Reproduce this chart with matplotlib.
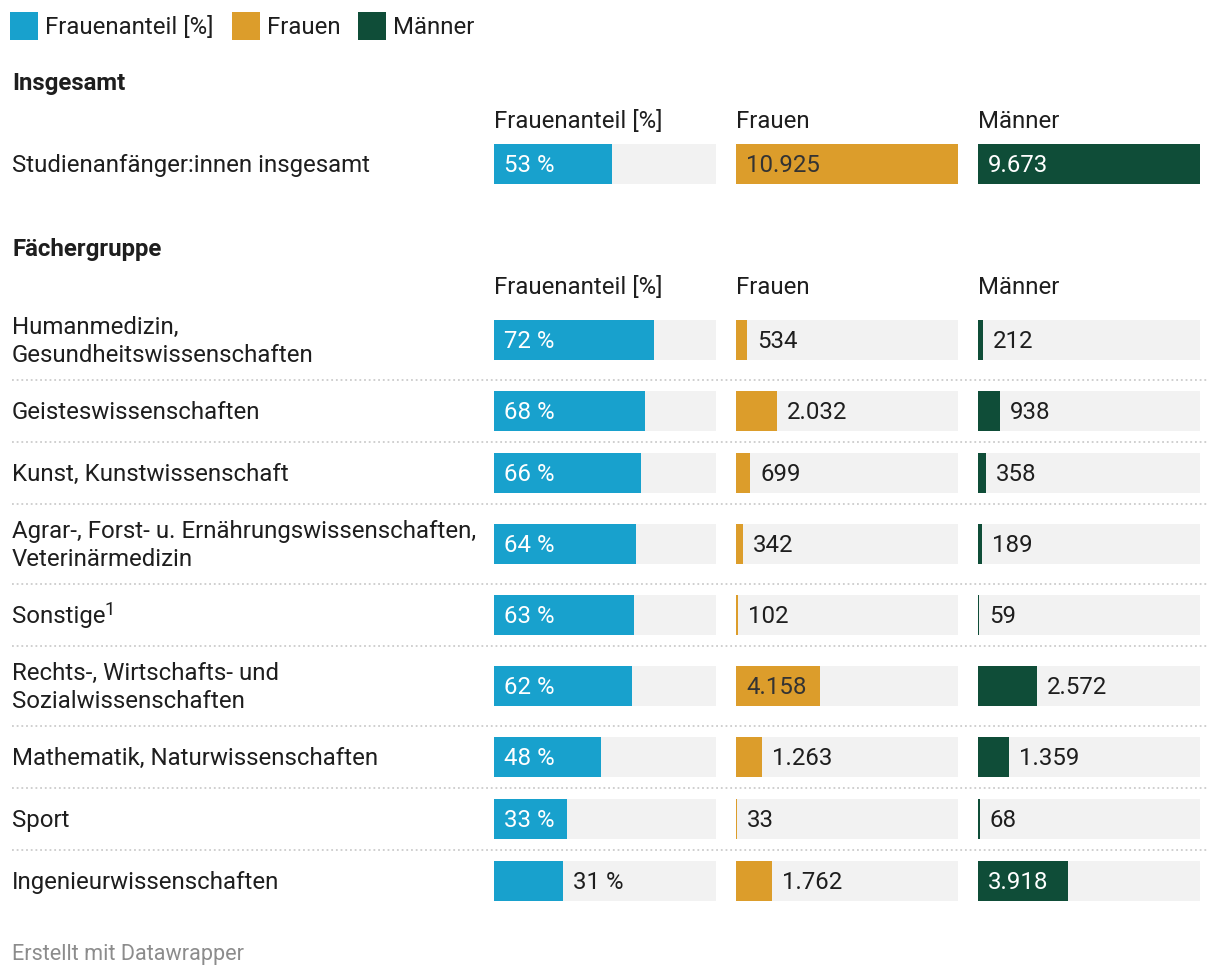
import matplotlib
matplotlib.use("Agg")
import matplotlib.pyplot as plt
from matplotlib.patches import Rectangle
from matplotlib.transforms import offset_copy

plt.rcParams['font.family'] = ['Roboto', 'DejaVu Sans']

# Data
total_label = "Studienanfänger:innen insgesamt"
total_share = 53
total_women = 10925
total_men = 9673

groups = [
    "Humanmedizin,\nGesundheitswissenschaften",
    "Geisteswissenschaften",
    "Kunst, Kunstwissenschaft",
    "Agrar-, Forst- u. Ernährungswissenschaften,\nVeterinärmedizin",
    "Sonstige",
    "Rechts-, Wirtschafts- und\nSozialwissenschaften",
    "Mathematik, Naturwissenschaften",
    "Sport",
    "Ingenieurwissenschaften",
]
footnotes = ["", "", "", "", "1", "", "", "", ""]
share = [72, 68, 66, 64, 63, 62, 48, 33, 31]
women = [534, 2032, 699, 342, 102, 4158, 1263, 33, 1762]
men = [212, 938, 358, 189, 59, 2572, 1359, 68, 3918]

columns = ["Frauenanteil [%]", "Frauen", "Männer"]
colors = ["#18a1cd", "#dc9d2b", "#0f4d38"]
inside_text = ["white", "#333333", "white"]

TXT = "#1e1e1e"
BG = "#f2f2f2"
W, H = 1220, 976
FS = 17.25  # points at 100 dpi
BL = 8.3    # centre -> baseline offset in px

fig = plt.figure(figsize=(W / 100, H / 100), dpi=100)
base = fig.add_axes([0, 0, 1, 1])
base.set_xlim(0, W)
base.set_ylim(H, 0)
base.axis("off")
renderer = fig.canvas.get_renderer()

# legend
for (x, lab), c in zip([(10, columns[0]), (232, columns[1]), (358, columns[2])], colors):
    base.add_patch(Rectangle((x, 12), 28, 28, color=c, lw=0))
    base.text(x + 35, 26 + BL, lab, fontsize=FS, color=TXT, va="baseline")

# row layout (pixel centres)
total_y = 164
centers = []
y = 340
heights = [80 if "\n" in g else 62 for g in groups]
for i, h in enumerate(heights):
    if i > 0:
        y += (heights[i - 1] + h) / 2
    centers.append(y)

col_x = [494, 736, 978]
col_w = 222
bar_h = 40

# section headers
base.text(12, 82 + BL, "Insgesamt", fontsize=FS, weight="bold", color=TXT, va="baseline")
base.text(12, 248 + BL, "Fächergruppe", fontsize=FS, weight="bold", color=TXT, va="baseline")
for hy in (120, 286):
    for x, lab in zip(col_x, columns):
        base.text(x, hy + BL, lab, fontsize=FS, color=TXT, va="baseline")


def row_label(text, cy, note=""):
    lines = text.split("\n")
    n = len(lines)
    for k, line in enumerate(lines):
        t = base.text(12, cy + (k - (n - 1) / 2) * 28 + BL, line, fontsize=FS,
                      color=TXT, va="baseline")
    if note:
        tw = t.get_window_extent(renderer).width
        base.text(12 + tw - 1, cy + BL - 8.5, note, fontsize=FS * 0.78,
                  color=TXT, va="baseline")


row_label(total_label, total_y)
for g, cy, note in zip(groups, centers, footnotes):
    row_label(g, cy, note)

# separators
for cy, h in zip(centers[:-1], heights[:-1]):
    base.plot([12, 1208], [cy + h / 2, cy + h / 2], color="#cccccc", lw=1.3,
              linestyle=(0, (1, 1.6)))

# bars
series = [
    (total_share, share, 100, "{} %"),
    (total_women, women, max([total_women] + women), "{}"),
    (total_men, men, max([total_men] + men), "{}"),
]


def fmt(v, pattern):
    return pattern.format(f"{v:,}".replace(",", "."))


for j, (tot, vals, vmax, pattern) in enumerate(series):
    ax = fig.add_axes([col_x[j] / W, 0, col_w / W, 1])
    ax.set_xlim(0, vmax)
    ax.set_ylim(H, 0)
    ax.axis("off")
    ys = [total_y] + centers
    vs = [tot] + vals
    ax.barh(ys, [vmax] * len(ys), height=bar_h, color=BG, lw=0)
    ax.barh(ys, vs, height=bar_h, color=colors[j], lw=0)
    shift = offset_copy(ax.transData, fig=fig, x=10, y=0, units="dots")
    for yy, v in zip(ys, vs):
        label = fmt(v, pattern)
        t = ax.text(0, yy + BL, label, fontsize=FS, va="baseline", transform=shift)
        tw = t.get_window_extent(renderer).width
        bar_px = ax.transData.transform((v, 0))[0] - ax.transData.transform((0, 0))[0]
        if bar_px >= tw + 20:
            t.set_color(inside_text[j])
        else:
            t.set_position((v, yy + BL))
            t.set_color(TXT)

base.text(12, 952 + 8, "Erstellt mit Datawrapper", fontsize=15.6,
          color="#8c8c8c", va="baseline")

fig.savefig("out.png", dpi=100, facecolor="white")
